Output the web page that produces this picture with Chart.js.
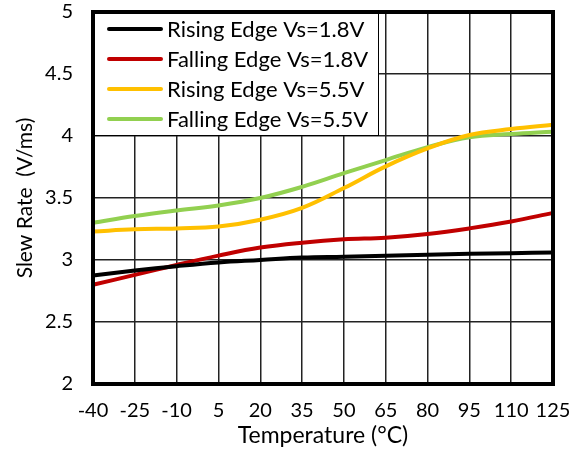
<!DOCTYPE html>
<html><head><meta charset="utf-8">
<script src="https://cdn.jsdelivr.net/npm/chart.js@4"></script>
<style>html,body{margin:0;padding:0;background:#fff}#wrap{width:577px;height:451px}</style>
</head><body><div id="wrap"><canvas id="c" width="577" height="451"></canvas></div>
<script>
const temperatures = ['-40','-25','-10','5','20','35','50','65','80','95','110','125'];
const yTicks = [2, 2.5, 3, 3.5, 4, 4.5, 5];
const risingVs18  = [2.875, 2.915, 2.95, 2.98, 3.00, 3.02, 3.027, 3.035, 3.043, 3.05, 3.055, 3.06];
const fallingVs18 = [2.80, 2.88, 2.96, 3.035, 3.10, 3.14, 3.167, 3.18, 3.21, 3.255, 3.31, 3.38];
const risingVs55  = [3.23, 3.247, 3.255, 3.27, 3.325, 3.42, 3.58, 3.755, 3.90, 4.008, 4.056, 4.09];
const fallingVs55 = [3.30, 3.355, 3.40, 3.44, 3.50, 3.59, 3.70, 3.806, 3.91, 3.99, 4.016, 4.035];
const seriesNames = ['Rising Edge Vs=1.8V','Falling Edge Vs=1.8V','Rising Edge Vs=5.5V','Falling Edge Vs=5.5V'];
const seriesColors = ['#000000','#c00000','#ffc000','#92d050'];
const seriesValues = [risingVs18, fallingVs18, risingVs55, fallingVs55];

const FONT = 'Lato';

const legendBox = {
  id: 'legendBox',
  beforeDatasetsDraw(chart) {
    const ctx = chart.ctx, a = chart.chartArea;
    ctx.save();
    const x0 = a.left, y0 = a.top, w = 285, h = 123;
    ctx.fillStyle = '#fff';
    ctx.fillRect(x0, y0, w, h);
    ctx.strokeStyle = '#000'; ctx.lineWidth = 1;
    ctx.strokeRect(x0 + 0.5, y0 + 0.5, w, h);
    ctx.font = '22px ' + FONT;
    ctx.textBaseline = 'middle';
    ctx.lineCap = 'round';
    chart.data.datasets.forEach((ds, i) => {
      const y = y0 + 17 + i * 30;
      ctx.strokeStyle = ds.borderColor; ctx.lineWidth = 4;
      ctx.beginPath(); ctx.moveTo(x0 + 16, y); ctx.lineTo(x0 + 68, y); ctx.stroke();
      ctx.fillStyle = '#000';
      ctx.fillText(ds.label, x0 + 74, y + 1);
    });
    ctx.restore();
  },
  afterDraw(chart) {
    const ctx = chart.ctx, a = chart.chartArea;
    ctx.save();
    ctx.strokeStyle = '#000'; ctx.lineWidth = 4;
    ctx.strokeRect(a.left, a.top, a.right - a.left, a.bottom - a.top);
    ctx.restore();
  }
};

new Chart(document.getElementById('c'), {
  type: 'line',
  data: {
    labels: temperatures,
    datasets: seriesNames.map((n, i) => ({
      label: n, data: seriesValues[i], borderColor: seriesColors[i], backgroundColor: seriesColors[i],
      borderWidth: 4, pointRadius: 0, tension: 0.4, fill: false
    }))
  },
  options: {
    responsive: false, animation: false,
    layout: { autoPadding: false, padding: { left: 0, right: 24, top: 12, bottom: 0 } },
    plugins: { legend: { display: false }, tooltip: { enabled: false } },
    scales: {
      x: {
        type: 'category', offset: false,
        grid: { color: '#222', lineWidth: 1.5, drawTicks: false, offset: false },
        border: { display: false },
        ticks: { color: '#000', font: { family: FONT, size: 20 }, padding: 15, maxRotation: 0, autoSkip: false },
        title: { display: true, text: 'Temperature (°C)', color: '#000', font: { family: FONT, size: 23 }, padding: { top: 0, bottom: 2 } },
        afterFit(s) { s.height = 67; s.paddingLeft = 0; s.paddingRight = 0; }
      },
      y: {
        min: 2, max: 5,
        afterBuildTicks(s) { s.ticks = yTicks.map(v => ({ value: v })); },
        grid: { color: '#222', lineWidth: 1.5, drawTicks: false },
        border: { display: false },
        ticks: { color: '#000', font: { family: FONT, size: 20 }, padding: 20, callback: v => String(v) },
        title: { display: true, text: 'Slew Rate  (V/ms)', color: '#000', font: { family: FONT, size: 21 }, padding: { top: 13, bottom: 0 } },
        afterFit(s) { s.width = 93; s.paddingTop = 0; s.paddingBottom = 0; }
      }
    }
  },
  plugins: [legendBox]
});
</script></body></html>
